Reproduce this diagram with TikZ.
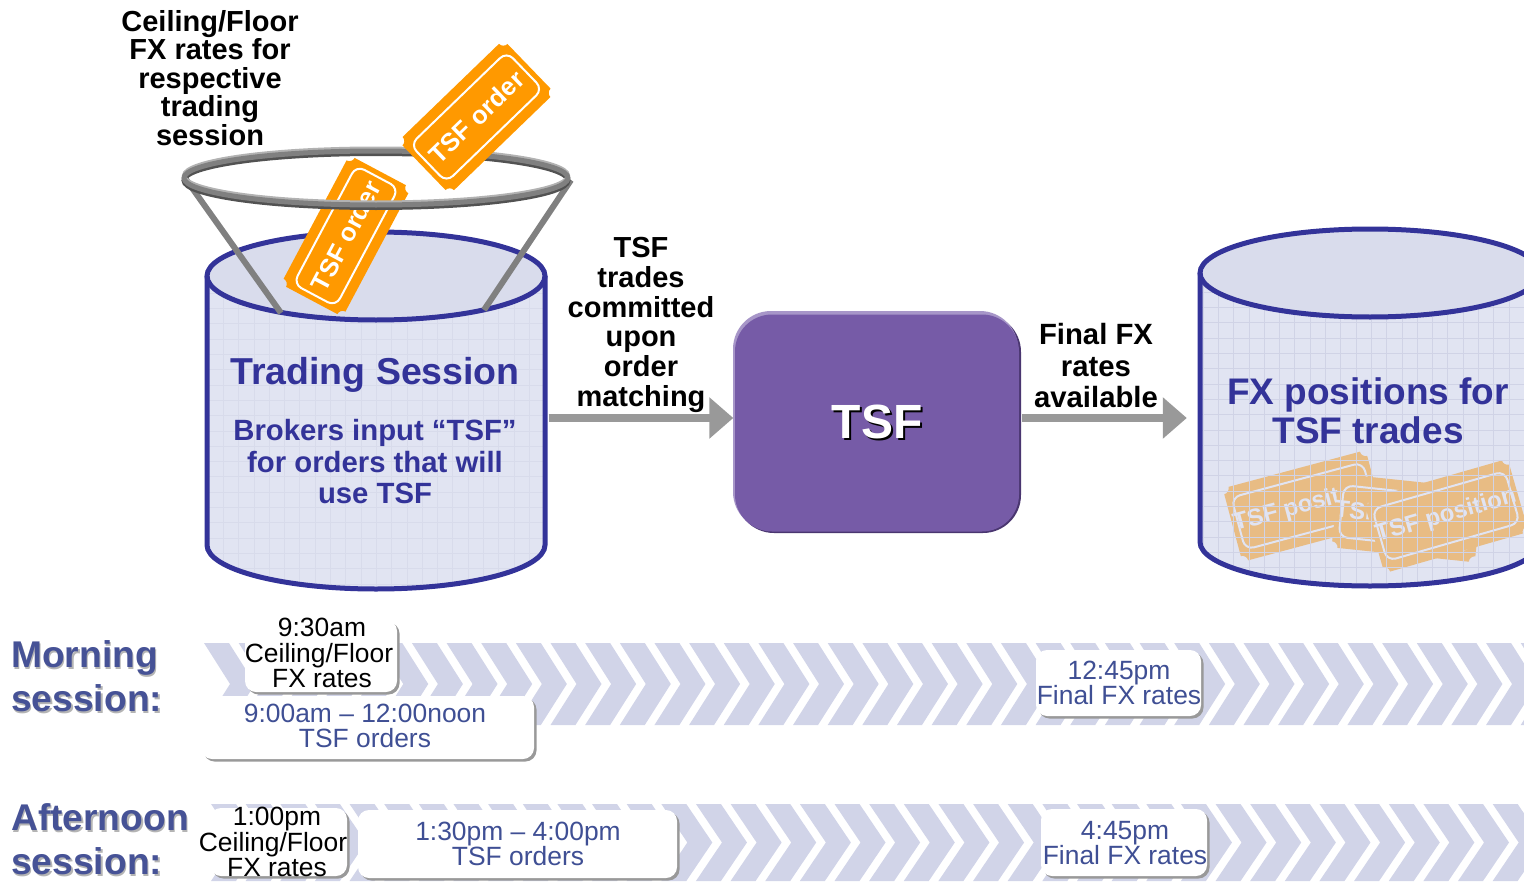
\documentclass[tikz,border=0pt]{standalone}
\usepackage{fontspec}
\setmainfont{Liberation Sans}
\usetikzlibrary{arrows.meta,shadows}
\definecolor{cylblue}{HTML}{333399}
\definecolor{cylfill}{HTML}{E1E4F2}
\definecolor{cyltop}{HTML}{D9DCEC}
\definecolor{gridc}{HTML}{D0D3E6}
\definecolor{gridf}{HTML}{D8DBEB}
\definecolor{chev}{HTML}{D1D4E8}
\definecolor{orangeT}{HTML}{FF9900}
\definecolor{fadeT}{HTML}{E8BC84}
\definecolor{arrowgray}{HTML}{999999}
\definecolor{tsfmid}{HTML}{765BA7}
\definecolor{tsflight}{HTML}{A796C8}
\definecolor{tsfdark}{HTML}{4A3670}
\definecolor{sessblue}{HTML}{465296}
\definecolor{boxblue}{HTML}{3F4F94}
\definecolor{shadowg}{HTML}{B4B4B4}
\newcommand{\fsz}[2]{\fontsize{#1}{#2}\selectfont}
\newcommand{\shd}[2]{\rlap{\kern#2\raisebox{-#2}{\color{shadowg}#1}}#1}
% ticket: name, x, y, angle, half length, half height, fill, line/text colour, font size
\newcommand{\ticket}[9]{%
  \begin{scope}[shift={(#2,#3)},rotate=#4,x=1pt,y=1pt]
    \fill[#7] ({-#5+6},#6) -- ({#5-6},#6) arc[start angle=180,end angle=270,radius=6pt]
      -- (#5,{-#6+6}) arc[start angle=90,end angle=180,radius=6pt]
      -- ({-#5+6},-#6) arc[start angle=0,end angle=90,radius=6pt]
      -- (-#5,{#6-6}) arc[start angle=270,end angle=360,radius=6pt] -- cycle;
    \draw[#8,line width=2pt,rounded corners=9pt] ({-#5+6},{-#6+11}) rectangle ({#5-6},{#6-11});
    \node[transform shape,text=#8,font=\bfseries\fsz{#9}{#9},inner sep=0pt] (#1) at (0,0) {\ticketlabel};
  \end{scope}}
\newcommand{\ticketlabel}{TSF order}
\tikzset{
  lbl/.style={align=center,inner sep=0pt,font=\bfseries\fsz{29}{28.4},text=black},
  head/.style={align=center,inner sep=0pt,text=cylblue,font=\bfseries\fsz{37}{39}},
  sub/.style={align=center,inner sep=0pt,text=cylblue,font=\bfseries\fsz{29.3}{31.5}},
  sess/.style={align=left,anchor=west,inner sep=0pt,text=sessblue,font=\bfseries\fsz{37.2}{44}},
  tbox/.style={rounded corners=11pt,fill=white,inner sep=0pt,
    general shadow={shadow xshift=2.5pt,shadow yshift=-2.5pt,fill=arrowgray}},
  btxt/.style={align=center,inner sep=0pt,font=\fsz{26.4}{25.8}},
  flow/.style={line width=8pt,draw=arrowgray,-{Triangle[length=24pt,width=40pt]}},
  chevron/.style={fill=chev},
  cyl/.style={draw=cylblue,line width=5pt},
  leg/.style={draw=black!50,line width=6pt},
  gridl/.style={draw=gridc,line width=.7pt},
}
\begin{document}
\begin{tikzpicture}[x=1pt,y=-1pt]
\useasboundingbox (0,0) rectangle (1524,883);
\clip (0,0) rectangle (1524,883);
% chevrons
\foreach \i in {0,...,38}{
  \pgfmathsetmacro{\xa}{204+34.65*\i}
  \fill[chevron] (\xa,643) -- ({\xa+25},643) -- ({\xa+51},684) -- ({\xa+25},725) -- (\xa,725) -- ({\xa+26},684) -- cycle;
  \pgfmathsetmacro{\xb}{211+34.64*\i}
  \fill[chevron] (\xb,804) -- ({\xb+25},804) -- ({\xb+51},842.5) -- ({\xb+25},881) -- (\xb,881) -- ({\xb+26},842.5) -- cycle;
}
% left cylinder
\fill[cylfill] (207,276) -- (207,545) arc[start angle=180,end angle=360,x radius=169pt,y radius=44pt] -- (545,276) -- cycle;
\begin{scope}
  \clip (207,276) -- (207,545) arc[start angle=180,end angle=360,x radius=169pt,y radius=44pt] -- (545,276) -- cycle;
  \foreach \i in {0,...,23} \draw[draw=gridf,line width=.7pt] ({208+15.3*\i},230) -- ({208+15.3*\i},595);
  \foreach \i in {0,...,24} \draw[draw=gridf,line width=.7pt] (205,{232+15.3*\i}) -- (548,{232+15.3*\i});
\end{scope}
\fill[cyltop] (376,276) ellipse[x radius=169pt,y radius=44pt];
\draw[cyl] (207,276) -- (207,545) arc[start angle=180,end angle=360,x radius=169pt,y radius=44pt] -- (545,276);
\draw[cyl] (376,276) ellipse[x radius=169pt,y radius=44pt];
\node[inner sep=0pt,minimum width=339pt,minimum height=2pt] (session) at (376,418) {};
% legs
\coordinate (lfa) at (185,178); \coordinate (lfb) at (281,313);
\coordinate (rga) at (571,180); \coordinate (rgb) at (484,310);
\draw[leg] (lfa) -- (lfb);
\draw[leg] (rga) -- (rgb);
% lower ticket
\ticket{ticketA}{346}{236}{62}{73}{35}{orangeT}{white}{25.5}
% ring
\draw[draw=black!68,line width=5pt] (376,180.5) ellipse[x radius=192pt,y radius=27pt];
\draw[draw=black!30,line width=4pt] (376,175.5) ellipse[x radius=192pt,y radius=27pt];
\draw[draw=black!50,line width=5pt] (376,178) ellipse[x radius=192pt,y radius=27pt];
% upper ticket
\ticket{ticketB}{476.5}{117}{44}{73}{37}{orangeT}{white}{25.5}
% labels
\node[lbl] (ceil) at (210,78) {Ceiling/Floor\\FX rates for\\respective\\trading\\session};
\node[head,font=\bfseries\fsz{37.5}{39}] (tsess) at (375,375) {Trading Session};
\node[sub] (bro) at (375,462) {Brokers input “TSF”\\for orders that will\\use TSF};
\node[lbl,font=\bfseries\fsz{29}{29.8}] (comm) at (641,325) {TSF\\trades\\committed\\upon\\order\\matching};
\node[lbl,font=\bfseries\fsz{29.3}{31.5}] (fin) at (1096,366) {Final FX\\rates\\available};
% TSF box
\draw[draw=none,fill=tsfdark,rounded corners=38pt] (736,314) rectangle (1021,533);
\draw[draw=none,fill=tsflight,rounded corners=38pt] (733,311) rectangle (1018,530);
\node[fill=tsfmid,rounded corners=37pt,minimum width=284pt,minimum height=217pt,inner sep=0pt,text=white,font=\bfseries\fsz{48}{48}] (tsf) at (877,423) {\rlap{\kern2pt\raisebox{-2pt}{\color{black}TSF}}TSF};
% right cylinder
\fill[cylfill] (1200,273) -- (1200,542) arc[start angle=180,end angle=360,x radius=170pt,y radius=44pt] -- (1540,273) -- cycle;
\renewcommand{\ticketlabel}{TSF position}
\ticket{ticketC}{1304}{506}{15}{74}{38}{fadeT}{cylfill}{24}
\ticket{ticketD}{1407}{518}{-6}{72}{37}{fadeT}{cylfill}{24}
\ticket{ticketE}{1446}{516}{16}{75}{38}{fadeT}{cylfill}{24}
\begin{scope}
  \clip (1200,273) -- (1200,542) arc[start angle=180,end angle=360,x radius=170pt,y radius=44pt] -- (1540,273) -- cycle;
  \foreach \i in {0,...,23} \draw[gridl] ({1203+15.3*\i},225) -- ({1203+15.3*\i},595);
  \foreach \i in {0,...,24} \draw[gridl] (1195,{231+15.3*\i}) -- (1545,{231+15.3*\i});
\end{scope}
\fill[cyltop] (1370,273) ellipse[x radius=170pt,y radius=44pt];
\draw[cyl] (1200,273) -- (1200,542) arc[start angle=180,end angle=360,x radius=170pt,y radius=44pt] -- (1540,273);
\draw[cyl] (1370,273) ellipse[x radius=170pt,y radius=44pt];
\node[head] (fxpos) at (1368,411) {FX positions for\\TSF trades};
\node[inner sep=0pt,minimum width=340pt,minimum height=2pt] (positions) at (1370,418) {};
% arrows
\draw[flow,shorten <=3pt,shorten >=1.5pt] (session.east) -- (session.east -| tsf.west);
\draw[flow,shorten <=3pt,shorten >=13pt] (tsf.east |- positions.west) -- (positions.west);
% session labels
\node[sess] (morn) at (11,677) {\shd{Morning}{1.5pt}\\\shd{session:}{1.5pt}};
\node[sess] (aft) at (11,840) {\shd{Afternoon}{1.5pt}\\\shd{session:}{1.5pt}};
% time boxes
\node[tbox,minimum width=152pt,minimum height=72pt] (b1) at (321,656) {};
\node[btxt,text=black] (t1) at (322,653) {9:30am\\Ceiling/Floor\kern6pt\relax\\FX rates};
\node[tbox,minimum width=333pt,minimum height=63pt] (b2) at (367.5,727.5) {};
\node[btxt,text=boxblue] (t2) at (365,726) {9:00am – 12:00noon\\TSF orders};
\node[tbox,minimum width=165pt,minimum height=66pt] (b3) at (1118.5,683) {};
\node[btxt,text=boxblue] (t3) at (1119,683) {12:45pm\\Final FX rates};
\node[tbox,minimum width=137pt,minimum height=68pt] (b4) at (278.5,842) {};
\node[btxt,text=black] (t4) at (277,842) {1:00pm\\Ceiling/Floor\kern8pt\relax\\FX rates};
\node[tbox,minimum width=319pt,minimum height=68pt] (b5) at (517.5,844) {};
\node[btxt,text=boxblue] (t5) at (518,844) {1:30pm – 4:00pm\\TSF orders};
\node[tbox,minimum width=166pt,minimum height=67pt] (b6) at (1124,842.5) {};
\node[btxt,text=boxblue] (t6) at (1125,843) {4:45pm\\Final FX rates};
\end{tikzpicture}
\end{document}
